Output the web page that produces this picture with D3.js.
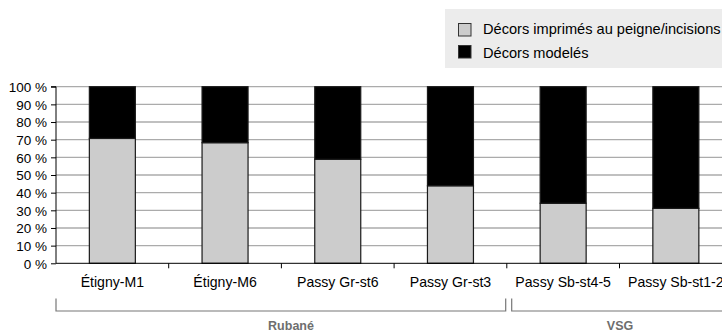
<!DOCTYPE html>
<html><head><meta charset="utf-8">
<script src="https://cdn.jsdelivr.net/npm/d3@7"></script>
<style>
html,body{margin:0;padding:0;background:#fff;overflow:hidden}
svg{display:block;font-family:"Liberation Sans",Arial,sans-serif}
</style></head><body>
<svg id="c" width="722" height="332"></svg>
<script>
const categories = ["Étigny-M1","Étigny-M6","Passy Gr-st6","Passy Gr-st3","Passy Sb-st4-5","Passy Sb-st1-2"];
const imprimes = [70.7, 68.3, 58.9, 43.9, 34.0, 31.1];
const modeles = [29.3, 31.7, 41.1, 56.1, 66.0, 68.9];
const seriesNames = ["Décors imprimés au peigne/incisions","Décors modelés"];
const groups = [{name:"Rubané", from:0, to:3}, {name:"VSG", from:4, to:5}];
const yTicks = [0,10,20,30,40,50,60,70,80,90,100];

(function(){
const FF = "Liberation Sans, Arial, sans-serif";
const svg = d3.select("#c");
const left = 56, plotTop = 86.7, bottom = 263.3, step = 112.7;
const x = d3.scaleBand().domain(categories).range([left, left + step*categories.length]).padding(0);
const y = d3.scaleLinear().domain([0,100]).range([bottom, plotTop]);
const bw = 46;

// gridlines
svg.append("g").selectAll("line").data(yTicks.filter(d=>d>0)).join("line")
  .attr("x1", left).attr("x2", 722).attr("y1", d=>y(d)).attr("y2", d=>y(d))
  .attr("stroke", "#ababab").attr("stroke-width", 1.3);

// bars
const bars = svg.append("g");
categories.forEach((c,i)=>{
  const cx = x(c) + x.bandwidth()/2;
  bars.append("rect").attr("x", cx-bw/2).attr("width", bw)
    .attr("y", y(imprimes[i])).attr("height", y(0)-y(imprimes[i]))
    .attr("fill", "#cccccc").attr("stroke", "#1a1a1a").attr("stroke-width", 1.2);
  bars.append("rect").attr("x", cx-bw/2).attr("width", bw)
    .attr("y", y(imprimes[i]+modeles[i])).attr("height", y(imprimes[i])-y(imprimes[i]+modeles[i]))
    .attr("fill", "#000").attr("stroke", "#1a1a1a").attr("stroke-width", 1.2);
});

// y axis
const yAxis = svg.append("g").attr("transform", `translate(${left},0)`)
  .call(d3.axisLeft(y).tickValues(yTicks).tickSize(5).tickPadding(4).tickFormat(d=>d+" %"));
yAxis.attr("font-family", FF);
yAxis.select(".domain").attr("stroke","#000").attr("d", `M-5,${plotTop}H0V${bottom}`);
yAxis.selectAll(".tick line").attr("stroke","#000");
yAxis.selectAll("text").attr("font-size", 13.5).attr("fill","#000").attr("dy","0.36em");

// x axis
const xAxis = svg.append("g").attr("transform", `translate(0,${bottom})`)
  .call(d3.axisBottom(x).tickSize(0).tickPadding(14));
xAxis.attr("font-family", FF);
xAxis.select(".domain").attr("stroke","#000").attr("d", `M${left},0H722`);
xAxis.selectAll("text").attr("font-size", 14.1).attr("fill","#000");
svg.append("g").selectAll("line").data(categories.slice(1)).join("line")
  .attr("x1", d=>x(d)).attr("x2", d=>x(d)).attr("y1", bottom).attr("y2", bottom+5)
  .attr("stroke", "#000");

// group brackets
const gTop = 298.5, gLine = 311;
const gx = [[left, 505.7],[511.7, 740]];
const gLabelX = [291, 620];
groups.forEach((g,i)=>{
  const [a,b] = gx[i];
  svg.append("path").attr("d", `M${a},${gTop}V${gLine}H${b}V${gTop}`)
    .attr("fill","none").attr("stroke","#777").attr("stroke-width",1.2);
  svg.append("text").attr("x", gLabelX[i]).attr("y", 330).attr("text-anchor","middle")
    .attr("font-size", 12.5).attr("font-weight","bold").attr("fill","#6e6e6e").text(g.name);
});

// legend
const lg = svg.append("g");
lg.append("rect").attr("x", 445).attr("y", 9).attr("width", 290).attr("height", 59).attr("fill", "#ececec");
const colors = ["#cccccc","#000"];
seriesNames.forEach((s,i)=>{
  const yy = 23.5 + i*22;
  lg.append("rect").attr("x", 458.5).attr("y", yy).attr("width", 12.5).attr("height", 12.5)
    .attr("fill", colors[i]).attr("stroke","#333").attr("stroke-width",1);
  lg.append("text").attr("x", 483).attr("y", 33.5 + i*24).attr("font-size", 14.6).attr("fill","#000").text(s);
});
})();
</script>
</body></html>
